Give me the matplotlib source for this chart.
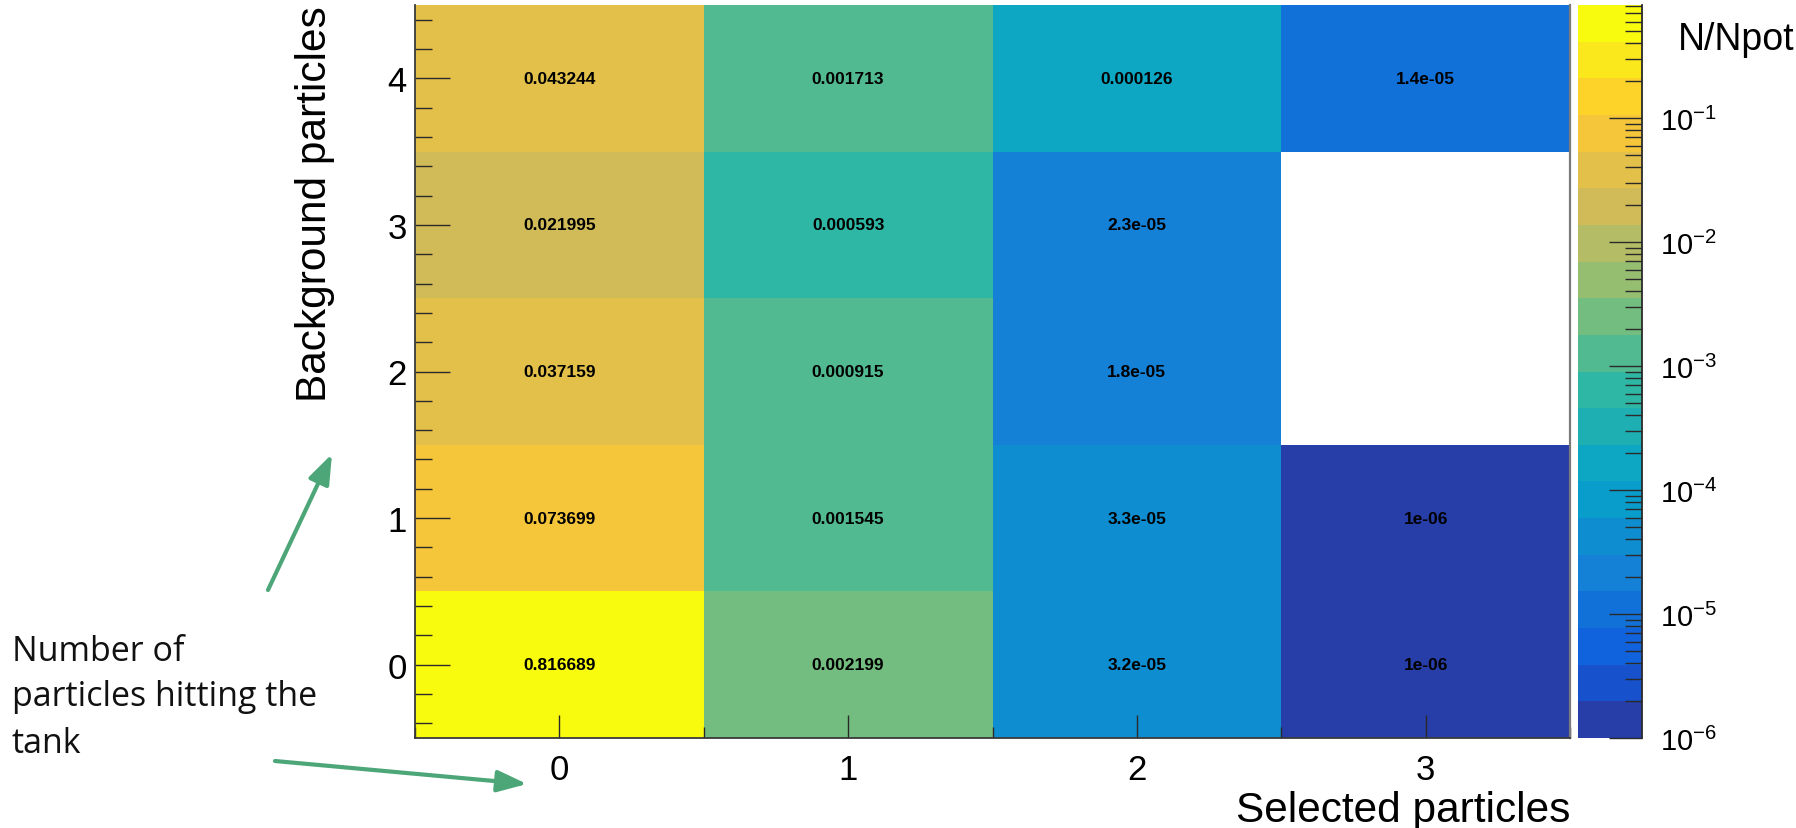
import numpy as np
import matplotlib
matplotlib.use("Agg")
import matplotlib.pyplot as plt
from matplotlib.colors import LinearSegmentedColormap, ListedColormap, LogNorm
from matplotlib.ticker import MultipleLocator, LogLocator, LogFormatterSciNotation, FixedLocator

plt.rcParams["font.family"] = ["Liberation Sans", "DejaVu Sans"]
plt.rcParams["mathtext.fontset"] = "custom"
plt.rcParams["mathtext.rm"] = "Liberation Sans"
plt.rcParams["mathtext.it"] = "Liberation Sans"
plt.rcParams["mathtext.default"] = "regular"

# N/Npot for each (background, selected) multiplicity; nan = no entries
selected = [0, 1, 2, 3]
background = [0, 1, 2, 3, 4]
sel_0 = [0.816689, 0.073699, 0.037159, 0.021995, 0.043244]
sel_1 = [0.002199, 0.001545, 0.000915, 0.000593, 0.001713]
sel_2 = [3.2e-05, 3.3e-05, 1.8e-05, 2.3e-05, 0.000126]
sel_3 = [1e-06, 1e-06, np.nan, np.nan, 1.4e-05]

z = np.array([sel_0, sel_1, sel_2, sel_3]).T          # rows: background, cols: selected
z = np.ma.masked_invalid(z)

# ROOT kBird palette, 20 contour bands between the histogram min and max
stops = [0.0, 0.125, 0.25, 0.375, 0.5, 0.625, 0.75, 0.875, 1.0]
red = [0.2082, 0.0592, 0.0780, 0.0232, 0.1802, 0.5301, 0.8186, 0.9956, 0.9764]
green = [0.1664, 0.3599, 0.5041, 0.6419, 0.7178, 0.7492, 0.7328, 0.7862, 0.9832]
blue = [0.5293, 0.8684, 0.8385, 0.7914, 0.6425, 0.4662, 0.3499, 0.1968, 0.0539]
bird = LinearSegmentedColormap.from_list(
    "bird", [(s, (r, g, b)) for s, r, g, b in zip(stops, red, green, blue)], N=255)
ncont = 20
band_cols = [bird(int((i + 0.99) * 255 / ncont)) for i in range(ncont)]
cmap = ListedColormap(band_cols)
cmap.set_bad("white")
norm = LogNorm(vmin=z.min(), vmax=z.max())

W, H = 1796, 829
fig = plt.figure(figsize=(W / 100, H / 100), dpi=100)

x0, x1, y0, y1 = 415, 1570, 6, 739
ax = fig.add_axes([x0 / W, 1 - y1 / H, (x1 - x0) / W, (y1 - y0) / H])
cax = fig.add_axes([1578 / W, 1 - y1 / H, (1642 - 1578) / W, (y1 - y0) / H])

xe = np.arange(len(selected) + 1) - 0.5
ye = np.arange(len(background) + 1) - 0.5
mesh = ax.pcolormesh(xe, ye, z, cmap=cmap, norm=norm)
ax.set_xlim(-0.5, 3.5)
ax.set_ylim(-0.5, 4.5)

for j, b in enumerate(background):
    for i, s in enumerate(selected):
        v = z[j, i]
        if v is np.ma.masked:
            continue
        ax.text(s, b, f"{v:g}", ha="center", va="center",
                fontsize=12.5, fontweight="bold", color="black")

# frame and ticks
for side in ("left", "bottom"):
    ax.spines[side].set_color("#3a3a3a")
    ax.spines[side].set_linewidth(1.3)
ax.spines["right"].set_color("#7a7a7a")
ax.spines["right"].set_linewidth(1.6)
ax.spines["top"].set_visible(False)

ax.xaxis.set_major_locator(FixedLocator(selected))
ax.xaxis.set_minor_locator(MultipleLocator(0.5))
ax.yaxis.set_major_locator(FixedLocator(background))
ax.yaxis.set_minor_locator(MultipleLocator(0.2))
ax.tick_params(axis="both", which="both", direction="in", color="#2a2a2a", width=1.0)
ax.tick_params(axis="x", which="major", length=16.5, pad=11, labelsize=25)
ax.tick_params(axis="x", which="minor", length=8)
ax.tick_params(axis="y", which="major", length=25, pad=6, labelsize=25)
ax.tick_params(axis="y", which="minor", length=12)

ax.set_xlabel("Selected particles", fontsize=30.5, loc="right", va="center")
ax.xaxis.set_label_coords(1.0, -(811 - y1) / (y1 - y0))
ax.set_ylabel("Background particles", fontsize=30.5, loc="top", va="center")
ax.yaxis.set_label_coords(-(x0 - 315) / (x1 - x0), 1.0)

# palette axis
cb = fig.colorbar(mesh, cax=cax)
cb.outline.set_visible(False)
cax.plot([1, 1], [0, 1], transform=cax.transAxes, color="#2a2a2a", lw=1.3, clip_on=False)
cax.yaxis.set_ticks_position("right")
cb.set_ticks([1e-6, 1e-5, 1e-4, 1e-3, 1e-2, 1e-1])
cax.yaxis.set_major_formatter(LogFormatterSciNotation())
cax.yaxis.set_minor_locator(LogLocator(base=10, subs=np.arange(2, 10)))
cax.tick_params(which="both", direction="in", color="#2a2a2a", width=1.0)
cax.tick_params(which="major", length=24, pad=13, labelsize=21)
cax.tick_params(which="minor", length=12)
fig.text(1678 / W, 1 - 40 / H, "N/Npot", fontsize=27, ha="left", va="center")

# side note with arrows pointing at the two axes
note_font = ["Open Sans", "DejaVu Sans"]
for line, base in zip(["Number of", "particles hitting the", "tank"], [661, 706, 753]):
    fig.text(12 / W, 1 - base / H, line, fontsize=24.5, family=note_font,
             ha="left", va="baseline", color="#111111")

arrow_kw = dict(arrowstyle="-|>,head_length=0.9,head_width=0.33",
                color="#4da678", lw=3, mutation_scale=20, shrinkA=0, shrinkB=0)
ax.annotate("", xy=(332, H - 455), xycoords="figure pixels",
            xytext=(268, H - 591), textcoords="figure pixels", arrowprops=arrow_kw)
ax.annotate("", xy=(527, H - 785), xycoords="figure pixels",
            xytext=(275, H - 762), textcoords="figure pixels", arrowprops=arrow_kw)

fig.savefig("out.png", dpi=100)
